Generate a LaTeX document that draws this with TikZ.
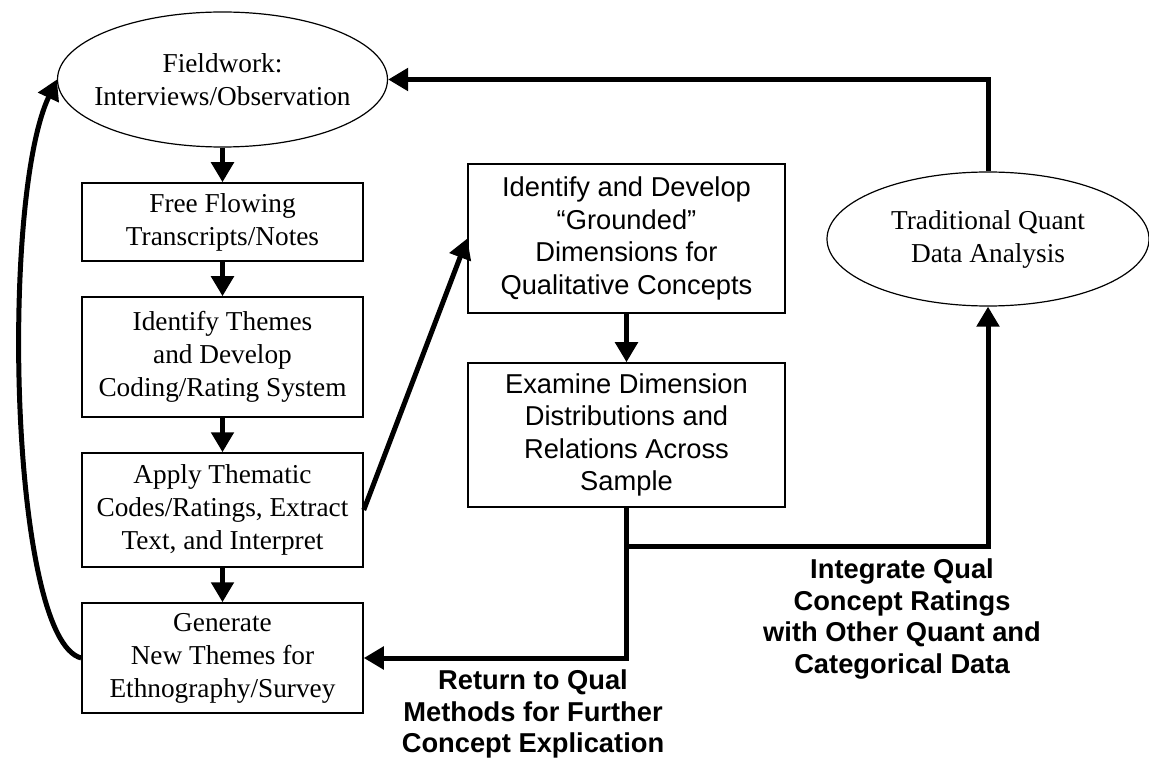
\documentclass[tikz,border=0pt]{standalone}
\usepackage{fontspec}
\setmainfont{Liberation Serif}
\setsansfont{Liberation Sans}
\usetikzlibrary{arrows.meta,shapes.geometric}
\begin{document}
\begin{tikzpicture}[x=1pt,y=-1pt,
 box/.style={draw, line width=1.5pt, rectangle, inner sep=0pt, align=center, font=\fontsize{27.3}{33}\selectfont},
 sbox/.style={box, font=\sffamily\fontsize{27.3}{32.5}\selectfont},
 oval/.style={draw, ellipse, line width=1.2pt, inner sep=0pt},
 otext/.style={inner sep=0pt, align=center, font=\fontsize{27.3}{33}\selectfont},
 conn/.style={line width=5pt, -{Triangle[length=20pt,width=22pt]}},
 lbl/.style={align=center, inner sep=0pt, font=\sffamily\bfseries\fontsize{27.3}{31.5}\selectfont}
]
\path[use as bounding box, fill=white] (0,0) rectangle (1149,759);
% left column
\node[oval, minimum width=330pt, minimum height=135pt] (field) at (222.5,79.5) {};
\node[otext] (fieldtxt) at (field.center) {Fieldwork:\\Interviews/Observation};
\node[box, minimum width=281pt, minimum height=78pt] (free) at (222.5,222) {Free Flowing\\Transcripts/Notes};
\node[box, minimum width=281pt, minimum height=120pt] (themes) at (222.5,357) {Identify Themes\\and Develop\\Coding/Rating System};
\node[box, minimum width=281pt, minimum height=114pt] (apply) at (222.5,510) {Apply Thematic\\Codes/Ratings, Extract\\Text, and Interpret};
\node[box, minimum width=281pt, minimum height=110pt] (gen) at (222.5,658) {Generate\\New Themes for\\Ethnography/Survey};
% middle column
\node[sbox, minimum width=317pt, minimum height=149pt] (ident) at (626.5,238.5) {Identify and Develop\\“Grounded”\\Dimensions for\\Qualitative Concepts};
\node[sbox, minimum width=317pt, minimum height=144pt] (exam) at (626.5,435) {Examine Dimension\\Distributions and\\Relations Across\\Sample};
% right ellipse
\node[oval, minimum width=322pt, minimum height=134pt] (quant) at (988,239) {};
\node[otext] (quanttxt) at (quant.center) {Traditional Quant\\Data Analysis};
% labels
\node[lbl] (ret) at (533,714) {Return to Qual\\Methods for Further\\Concept Explication};
\node[lbl] (integ) at (902,619) {Integrate Qual\\Concept Ratings\\with Other Quant and\\Categorical Data};
% connectors
\draw[conn] (field.south) -- (free.north);
\draw[conn] (free.south) -- (themes.north);
\draw[conn] (themes.south) -- (apply.north);
\draw[conn] (apply.south) -- (gen.north);
\draw[conn] (ident.south) -- (exam.north);
\draw[conn] (apply.east) -- (ident.west);
\draw[conn] (gen.west) .. controls (10,640) and (0,200) .. (field.west);
\draw[conn] (exam.south) |- (gen.east);
\coordinate (j) at (626.5,546);
\draw[conn] (j) -| (quant.south);
\draw[conn] (quant.north) |- (field.east);
\end{tikzpicture}
\end{document}
